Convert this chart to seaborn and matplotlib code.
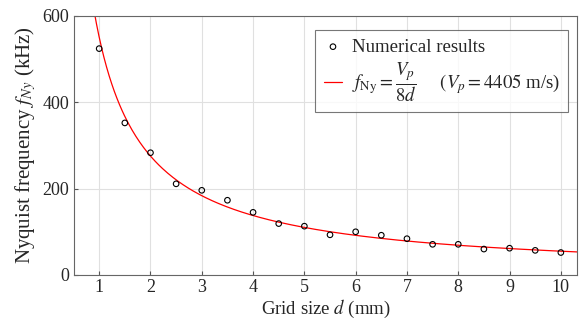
import matplotlib
matplotlib.use("Agg")
import matplotlib.pyplot as plt
import numpy as np
import pandas as pd
import seaborn as sns

# numerical results
grid_size = [1.0, 1.5, 2.0, 2.5, 3.0, 3.5, 4.0, 4.5, 5.0, 5.5,
             6.0, 6.5, 7.0, 7.5, 8.0, 8.5, 9.0, 9.5, 10.0]
f_numerical = [524, 352, 283, 211, 196, 173, 145, 119, 113, 93,
               100, 92, 84, 71, 71, 60, 62, 57, 52]

# theoretical curve f_Ny = Vp / (8 d), Vp in m/s, d in mm -> kHz
vp = 4405
d_curve = np.linspace(0.5, 10.4, 400)
f_curve = vp / (8 * d_curve)

sns.set_style("whitegrid")
plt.rcParams["font.family"] = ["Liberation Serif", "DejaVu Serif"]
plt.rcParams["mathtext.fontset"] = "stix"

df_pts = pd.DataFrame({"d": grid_size, "f": f_numerical})
df_line = pd.DataFrame({"d": d_curve, "f": f_curve})

fig, ax = plt.subplots(figsize=(5.79, 3.22), dpi=100)
fig.subplots_adjust(left=0.127, right=0.997, top=0.951, bottom=0.146)

sns.lineplot(x="d", y="f", data=df_line, ax=ax, color="red", linewidth=0.9,
             label=r"$f_{\mathrm{Ny}} = \dfrac{V_p}{8d}$     $(V_p = 4405$ m/s)",
             zorder=2)
sns.scatterplot(x="d", y="f", data=df_pts, ax=ax, marker="o", s=16,
                facecolor="none", edgecolor="black", linewidth=0.8,
                label="Numerical results", zorder=3)

ax.set_xlim(0.5, 10.32)
ax.set_ylim(0, 600)
ax.set_xticks(range(1, 11))
ax.set_yticks([0, 200, 400, 600])
ax.set_xlabel(r"Grid size $d$ (mm)", fontsize=13.5, labelpad=1)
ax.set_ylabel(r"Nyquist frequency $f_{Ny}$ (kHz)", fontsize=15, labelpad=3)
ax.tick_params(labelsize=13, direction="in", length=3, color="#555555",
               bottom=True, left=True, pad=3)
ax.grid(True, color="#e0e0e0", linewidth=0.8)
for sp in ax.spines.values():
    sp.set_color("#666666")
    sp.set_linewidth(0.8)

handles, labels = ax.get_legend_handles_labels()
leg = ax.legend(handles[::-1], labels[::-1], loc="upper right",
                bbox_to_anchor=(0.982, 0.945), borderaxespad=0,
                fontsize=13.5, frameon=True,
                fancybox=False, edgecolor="#555555", handlelength=1.0,
                handletextpad=0.5, borderpad=0.45, labelspacing=0.25)
leg.get_frame().set_linewidth(0.8)

fig.savefig("out.png", dpi=100)
